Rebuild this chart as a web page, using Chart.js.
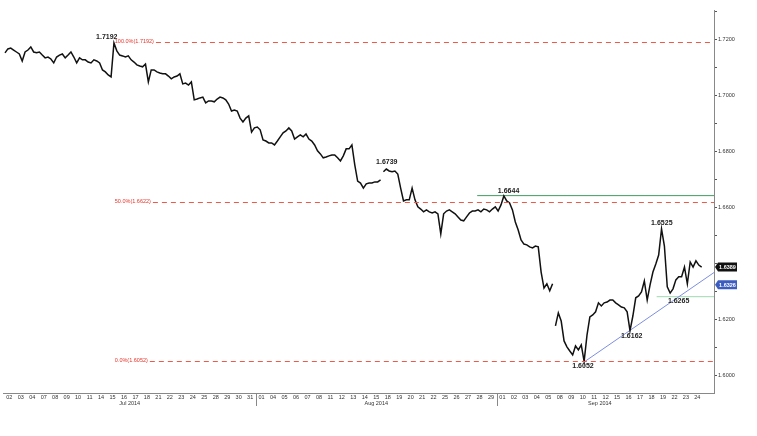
<!DOCTYPE html>
<html>
<head>
<meta charset="utf-8">
<script src="https://cdn.jsdelivr.net/npm/chart.js@4.4.1/dist/chart.umd.min.js"></script>
<style>
html, body { margin: 0; padding: 0; background: #fff; }
#wrap { width: 757px; height: 436px; }
</style>
</head>
<body>
<div id="wrap"><canvas id="priceChart" width="757" height="436"></canvas></div>
<script>
// trading days per month (x axis tick labels)
const julDays = ["02", "03", "04", "07", "08", "09", "10", "11", "14", "15", "16",
    "17", "18", "21", "22", "23", "24", "25", "28", "29", "30", "31"];
const augDays = ["01", "04", "05", "06", "07", "08", "11", "12", "13", "14", "15",
    "18", "19", "20", "21", "22", "25", "26", "27", "28", "29"];
const sepDays = ["01", "02", "03", "04", "05", "08", "09", "10", "11", "12", "15",
    "16", "17", "18", "19", "22", "23", "24"];

// four price readings per trading day (roughly every 6 hours)
const julPrices = [
    1.7154, 1.7168, 1.7171, 1.7164, 1.7157, 1.7150, 1.7125, 1.7157,
    1.7164, 1.7175, 1.7157, 1.7154, 1.7157, 1.7146, 1.7136, 1.7139,
    1.7132, 1.7118, 1.7139, 1.7146, 1.7150, 1.7136, 1.7146, 1.7157,
    1.7139, 1.7118, 1.7136, 1.7129, 1.7129, 1.7121, 1.7118, 1.7129,
    1.7125, 1.7118, 1.7093, 1.7086, 1.7075, 1.7068, 1.7189, 1.7161,
    1.7146, 1.7143, 1.7139, 1.7143, 1.7129, 1.7121, 1.7111, 1.7107,
    1.7104, 1.7114, 1.7050, 1.7093, 1.7093, 1.7086, 1.7082, 1.7079,
    1.7079, 1.7071, 1.7061, 1.7068, 1.7071, 1.7079, 1.7043, 1.7046,
    1.7039, 1.7050, 1.6986, 1.6989, 1.6993, 1.6996, 1.6975, 1.6982,
    1.6982, 1.6979, 1.6989, 1.6996, 1.6993, 1.6986, 1.6971, 1.6946,
    1.6950, 1.6946, 1.6921, 1.6907, 1.6921, 1.6929, 1.6871, 1.6886
];
const augPrices = [
    1.6889, 1.6879, 1.6843, 1.6839, 1.6832, 1.6832, 1.6825, 1.6839,
    1.6854, 1.6868, 1.6875, 1.6886, 1.6875, 1.6846, 1.6854, 1.6861,
    1.6854, 1.6864, 1.6846, 1.6839, 1.6825, 1.6804, 1.6793, 1.6779,
    1.6782, 1.6786, 1.6789, 1.6789, 1.6779, 1.6768, 1.6786, 1.6811,
    1.6811, 1.6825, 1.6754, 1.6696, 1.6689, 1.6671, 1.6686, 1.6689,
    1.6689, 1.6693, 1.6693, 1.6700, 1.6729, 1.6739, 1.6732, 1.6729,
    1.6732, 1.6721, 1.6671, 1.6625, 1.6629, 1.6629, 1.6671, 1.6629,
    1.6604, 1.6596, 1.6586, 1.6593, 1.6586, 1.6582, 1.6586, 1.6579,
    1.6507, 1.6579, 1.6589, 1.6593, 1.6586, 1.6579, 1.6568, 1.6557,
    1.6554, 1.6568, 1.6582, 1.6589, 1.6589, 1.6593, 1.6586, 1.6596,
    1.6593, 1.6586, 1.6596, 1.6604
];
const sepPrices = [
    1.6589, 1.6611, 1.6643, 1.6625, 1.6618, 1.6593, 1.6550, 1.6521,
    1.6486, 1.6471, 1.6468, 1.6461, 1.6457, 1.6464, 1.6461, 1.6371,
    1.6314, 1.6329, 1.6304, 1.6329, 1.6179, 1.6225, 1.6196, 1.6125,
    1.6104, 1.6089, 1.6075, 1.6107, 1.6093, 1.6111, 1.6052, 1.6146,
    1.6211, 1.6218, 1.6229, 1.6261, 1.6250, 1.6261, 1.6264, 1.6271,
    1.6271, 1.6261, 1.6254, 1.6246, 1.6243, 1.6229, 1.6162, 1.6214,
    1.6279, 1.6286, 1.6300, 1.6339, 1.6271, 1.6325, 1.6371, 1.6400,
    1.6432, 1.6525, 1.6464, 1.6318, 1.6296, 1.6311, 1.6343, 1.6354,
    1.6354, 1.6389, 1.6329, 1.6407, 1.6389, 1.6411, 1.6396, 1.6389
];

// holes in the feed
const gapBefore = ["18 Aug", "08 Sep"];

// right axis
const yTickValues = [1.60, 1.61, 1.62, 1.63, 1.64, 1.65, 1.66, 1.67, 1.68, 1.69,
    1.70, 1.71, 1.72, 1.73];
const yTickLabels = ["1.6000", "1.6200", "1.6400", "1.6600", "1.6800", "1.7000", "1.7200"];

// fibonacci retracement
const fibLevels = ["100.0%", "50.0%", "0.0%"];
const fibPrices = [1.7192, 1.6622, 1.6052];
const fibStartDay = 9.2;

// swing highs / lows
const pivotPrices = [1.7192, 1.6739, 1.6644, 1.6525, 1.6265, 1.6162, 1.6052];
const pivotDays = [9.2, 33.0, 43.1, 56.9, 58.1, 54.1, 50.2];

// horizontal levels and trend line
const resistancePrice = 1.6644;
const resistanceStartDay = 40.8;
const supportPrice = 1.6283;
const supportStartDay = 56.45;
const trendDays = [50.2, 54.1];
const trendPrices = [1.6052, 1.6162];

const lastPrice = 1.6389;
const trendPrice = 1.6326;

const X_MIN = -0.55;
const X_MAX = 61.45;

const months = [
    { name: "Jul 2014", short: "Jul", days: julDays, prices: julPrices },
    { name: "Aug 2014", short: "Aug", days: augDays, prices: augPrices },
    { name: "Sep 2014", short: "Sep", days: sepDays, prices: sepPrices },
];

const dayLabels = [];
const monthOfDay = [];
const pricePoints = [];

months.forEach((m, mi) => {
    m.days.forEach((d, j) => {
        const i = dayLabels.length;
        if (gapBefore.includes(d + " " + m.short)) {
            pricePoints.push({ x: i - 0.5, y: null });
        }
        for (let k = 0; k < 4; k++) {
            pricePoints.push({ x: i - 0.375 + 0.25 * k, y: m.prices[j * 4 + k] });
        }
        dayLabels.push(d);
        monthOfDay.push(mi);
    });
});

// extend the trend line to the right edge
const trendSlope = (trendPrices[1] - trendPrices[0]) / (trendDays[1] - trendDays[0]);
const trendPoints = [
    { x: trendDays[0], y: trendPrices[0] },
    { x: X_MAX, y: trendPrices[0] + trendSlope * (X_MAX - trendDays[0]) },
];

const FONT = '"Liberation Sans", Arial, sans-serif';

const overlayPlugin = {
    id: "overlay",
    afterDatasetsDraw(chart) {
        const ctx = chart.ctx;
        const xs = chart.scales.x;
        const ys = chart.scales.y;
        const area = chart.chartArea;

        ctx.save();

        // fib levels
        ctx.font = "5.5px " + FONT;
        ctx.textBaseline = "middle";
        ctx.textAlign = "left";
        fibLevels.forEach((lvl, i) => {
            const text = lvl + "(" + fibPrices[i].toFixed(4) + ")";
            const x0 = xs.getPixelForValue(fibStartDay);
            const y = Math.round(ys.getPixelForValue(fibPrices[i])) + 0.5;
            ctx.fillStyle = "#e8342a";
            ctx.fillText(text, x0, y - 1.5);
            const w = ctx.measureText(text).width;
            ctx.strokeStyle = "#ee5a48";
            ctx.lineWidth = 1;
            ctx.setLineDash([5, 4]);
            ctx.beginPath();
            ctx.moveTo(x0 + w + 2, y);
            ctx.lineTo(area.right, y);
            ctx.stroke();
        });
        ctx.setLineDash([]);

        // pivot labels
        const offsets = [[-8, -5], [-1, -7], [5, -5], [0, -6], [3, -1], [2, 5.5], [-2, 5]];
        ctx.font = "bold 7px " + FONT;
        ctx.fillStyle = "#222";
        ctx.textAlign = "center";
        pivotPrices.forEach((p, i) => {
            const x = xs.getPixelForValue(pivotDays[i]) + offsets[i][0];
            const y = ys.getPixelForValue(p) + offsets[i][1];
            ctx.fillText(p.toFixed(4), x, y);
        });

        ctx.restore();
    },
    afterDraw(chart) {
        const ctx = chart.ctx;
        const xs = chart.scales.x;
        const ys = chart.scales.y;
        const area = chart.chartArea;

        ctx.save();

        // month separators + labels
        ctx.strokeStyle = "#888";
        ctx.lineWidth = 1;
        for (let i = 1; i < monthOfDay.length; i++) {
            if (monthOfDay[i] !== monthOfDay[i - 1]) {
                const x = Math.round(xs.getPixelForValue(i - 0.5)) + 0.5;
                ctx.beginPath();
                ctx.moveTo(x, area.bottom);
                ctx.lineTo(x, area.bottom + 13);
                ctx.stroke();
            }
        }
        ctx.font = "5.5px " + FONT;
        ctx.fillStyle = "#333";
        ctx.textAlign = "center";
        ctx.textBaseline = "middle";
        months.forEach((m, mi) => {
            const first = monthOfDay.indexOf(mi);
            const last = monthOfDay.lastIndexOf(mi);
            const x = xs.getPixelForValue((first + last) / 2);
            ctx.fillText(m.name, x, area.bottom + 10);
        });

        // price boxes on the right axis (they hide the tick label underneath)
        const boxes = [[lastPrice, "#111"], [trendPrice, "#3c5cc0"]];
        boxes.forEach(([p, col]) => {
            const y = ys.getPixelForValue(p);
            const x0 = area.right + 1;
            ctx.fillStyle = "#fff";
            ctx.fillRect(x0 + 2, y - 6, 26, 12);
            ctx.fillStyle = col;
            ctx.beginPath();
            ctx.moveTo(x0, y);
            ctx.lineTo(x0 + 3, y - 4.5);
            ctx.lineTo(x0 + 22, y - 4.5);
            ctx.lineTo(x0 + 22, y + 4.5);
            ctx.lineTo(x0 + 3, y + 4.5);
            ctx.closePath();
            ctx.fill();
            ctx.fillStyle = "#fff";
            ctx.font = "bold 5.5px " + FONT;
            ctx.fillText(p.toFixed(4), x0 + 12.5, y + 0.5);
        });

        ctx.restore();
    },
};

const ctx = document.getElementById("priceChart").getContext("2d");

new Chart(ctx, {
    type: "line",
    data: {
        datasets: [
            {
                label: "GBP/USD",
                data: pricePoints,
                borderColor: "#111",
                borderWidth: 1.5,
                pointRadius: 0,
                tension: 0,
                spanGaps: false,
            },
            {
                label: "trend",
                data: trendPoints,
                borderColor: "#7d8ee0",
                borderWidth: 1,
                pointRadius: 0,
            },
            {
                label: "resistance",
                data: [
                    { x: resistanceStartDay, y: resistancePrice },
                    { x: X_MAX, y: resistancePrice },
                ],
                borderColor: "#3f9e60",
                borderWidth: 1,
                pointRadius: 0,
            },
            {
                label: "support",
                data: [
                    { x: supportStartDay, y: supportPrice },
                    { x: X_MAX, y: supportPrice },
                ],
                borderColor: "#9fd8ae",
                borderWidth: 1,
                pointRadius: 0,
            },
        ],
    },
    options: {
        responsive: false,
        devicePixelRatio: 1,
        animation: false,
        layout: { padding: { top: 10, left: 3, right: 0, bottom: 0 } },
        plugins: {
            legend: { display: false },
            tooltip: { enabled: false },
        },
        scales: {
            x: {
                type: "linear",
                min: X_MIN,
                max: X_MAX,
                afterBuildTicks: (s) => {
                    s.ticks = dayLabels.map((_, i) => ({ value: i }));
                },
                afterFit: (s) => {
                    s.height = 43;
                },
                ticks: {
                    autoSkip: false,
                    maxRotation: 0,
                    padding: 1,
                    color: "#333",
                    font: { size: 5.5, family: FONT },
                    callback: (v) => (dayLabels[v] !== undefined ? dayLabels[v] : ""),
                },
                grid: { display: false, drawTicks: false },
                border: { color: "#888" },
            },
            y: {
                type: "linear",
                position: "right",
                min: 1.5939,
                max: 1.7307,
                afterBuildTicks: (s) => {
                    s.ticks = yTickValues.map((v) => ({ value: v }));
                },
                afterFit: (s) => {
                    s.width = 43;
                },
                ticks: {
                    autoSkip: false,
                    padding: 1,
                    color: "#333",
                    font: { size: 5.5, family: FONT },
                    callback: (v) => {
                        const lbl = v.toFixed(4);
                        return yTickLabels.includes(lbl) ? lbl : "";
                    },
                },
                grid: { drawOnChartArea: false, tickLength: 3, color: "#555" },
                border: { color: "#888" },
            },
        },
    },
    plugins: [overlayPlugin],
});
</script>
</body>
</html>
